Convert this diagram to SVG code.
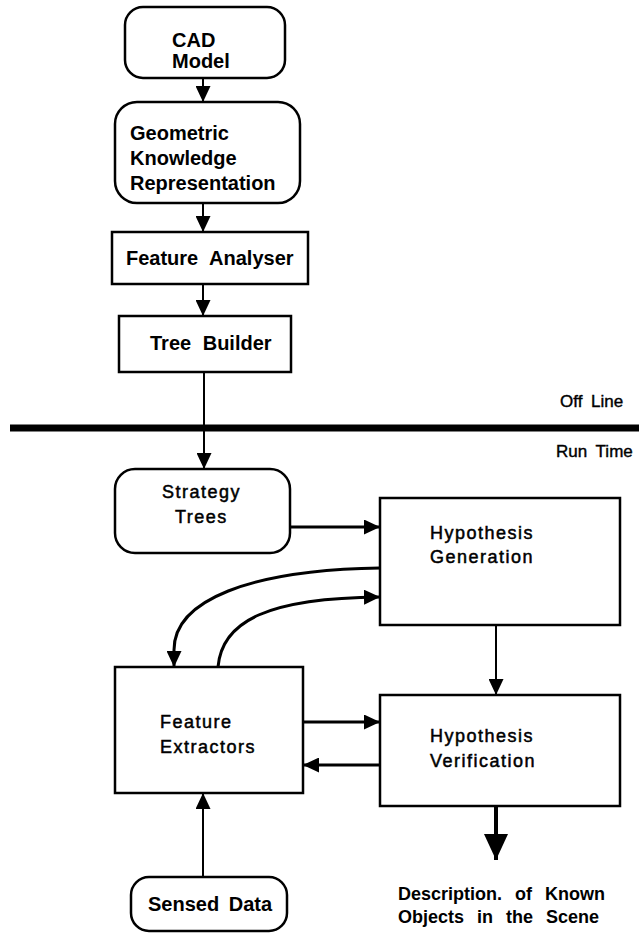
<svg xmlns="http://www.w3.org/2000/svg" width="639" height="933" viewBox="0 0 639 933">
<style>
.box{fill:#fff;stroke:#000;stroke-width:2.5}
.con{fill:none;stroke:#000;stroke-width:2}
.thk{fill:none;stroke:#000;stroke-width:3}
.tb{font-family:"Liberation Sans",Arial,sans-serif;font-weight:bold;font-size:20px;fill:#000}
.tl{font-family:"Liberation Sans",Arial,sans-serif;font-size:18px;letter-spacing:1.5px;fill:#000;stroke:#000;stroke-width:0.5}
.tr{font-family:"Liberation Sans",Arial,sans-serif;font-size:17px;word-spacing:4px;fill:#000;stroke:#000;stroke-width:0.4}
.td{font-family:"Liberation Sans",Arial,sans-serif;font-weight:bold;font-size:18px;word-spacing:8px;fill:#000}
</style>
<defs>
<marker id="ah" markerWidth="16" markerHeight="15" refX="16" refY="7.5" orient="auto" markerUnits="userSpaceOnUse"><path d="M0,0 L16,7.5 L0,15 z" fill="#000"/></marker>
<marker id="big" markerWidth="26" markerHeight="24" refX="26" refY="12" orient="auto" markerUnits="userSpaceOnUse"><path d="M0,0 L26,12 L0,24 z" fill="#000"/></marker>
</defs>
<rect x="0" y="0" width="639" height="933" fill="#fff"/>
<g id="separator">
<line x1="10" y1="428" x2="639" y2="428" stroke="#000" stroke-width="7"/>
<text class="tr" x="560" y="407">Off Line</text>
<text class="tr" x="556" y="457">Run Time</text>
</g>
<g id="connectors">
<line class="con" x1="203" y1="78" x2="203" y2="102" marker-end="url(#ah)"/>
<line class="con" x1="203" y1="203" x2="203" y2="232" marker-end="url(#ah)"/>
<line class="con" x1="203" y1="284" x2="203" y2="316" marker-end="url(#ah)"/>
<line class="con" x1="204" y1="372" x2="204" y2="469" marker-end="url(#ah)"/>
<line class="thk" x1="290" y1="527" x2="380" y2="527" marker-end="url(#ah)"/>
<path class="thk" d="M380,568 C250,570 174,600 174,650 L174,667" marker-end="url(#ah)"/>
<path class="thk" d="M218,667 C222,620 270,598 380,597" marker-end="url(#ah)"/>
<line class="con" x1="496" y1="625" x2="496" y2="695" marker-end="url(#ah)"/>
<line class="thk" x1="303" y1="722" x2="380" y2="722" marker-end="url(#ah)"/>
<line class="thk" x1="380" y1="765" x2="303" y2="765" marker-end="url(#ah)"/>
<line class="con" x1="203" y1="877" x2="203" y2="793" marker-end="url(#ah)"/>
<line x1="496" y1="806" x2="496" y2="860" stroke="#000" stroke-width="4" marker-end="url(#big)"/>
</g>
<g id="cad">
<rect class="box" x="125" y="7" width="160" height="71" rx="18"/>
<text class="tb" x="172" y="47">CAD</text>
<text class="tb" x="172" y="68">Model</text>
</g>
<g id="geometric">
<rect class="box" x="115" y="102" width="185" height="101" rx="22"/>
<text class="tb" x="130" y="140">Geometric</text>
<text class="tb" x="130" y="165">Knowledge</text>
<text class="tb" x="130" y="190">Representation</text>
</g>
<g id="feature-analyser">
<rect class="box" x="112" y="232" width="196" height="52"/>
<text class="tb" x="126" y="265" word-spacing="6">Feature Analyser</text>
</g>
<g id="tree-builder">
<rect class="box" x="119" y="316" width="172" height="56"/>
<text class="tb" x="150" y="350" word-spacing="6">Tree Builder</text>
</g>
<g id="strategy-trees">
<rect class="box" x="115" y="469" width="175" height="84" rx="20"/>
<text class="tl" x="162" y="498">Strategy</text>
<text class="tl" x="175" y="523">Trees</text>
</g>
<g id="hypothesis-generation">
<rect class="box" x="380" y="498" width="240" height="127"/>
<text class="tl" x="430" y="539">Hypothesis</text>
<text class="tl" x="430" y="563">Generation</text>
</g>
<g id="feature-extractors">
<rect class="box" x="115" y="667" width="188" height="126"/>
<text class="tl" x="160" y="728">Feature</text>
<text class="tl" x="160" y="753">Extractors</text>
</g>
<g id="hypothesis-verification">
<rect class="box" x="380" y="695" width="240" height="111"/>
<text class="tl" x="430" y="742">Hypothesis</text>
<text class="tl" x="430" y="767">Verification</text>
</g>
<g id="sensed-data">
<rect class="box" x="131" y="877" width="156" height="54" rx="18"/>
<text class="tb" x="148" y="911" font-size="19" word-spacing="4">Sensed Data</text>
</g>
<g id="output">
<text class="td" x="398" y="900">Description. of Known</text>
<text class="td" x="398" y="923">Objects in the Scene</text>
</g>
</svg>
